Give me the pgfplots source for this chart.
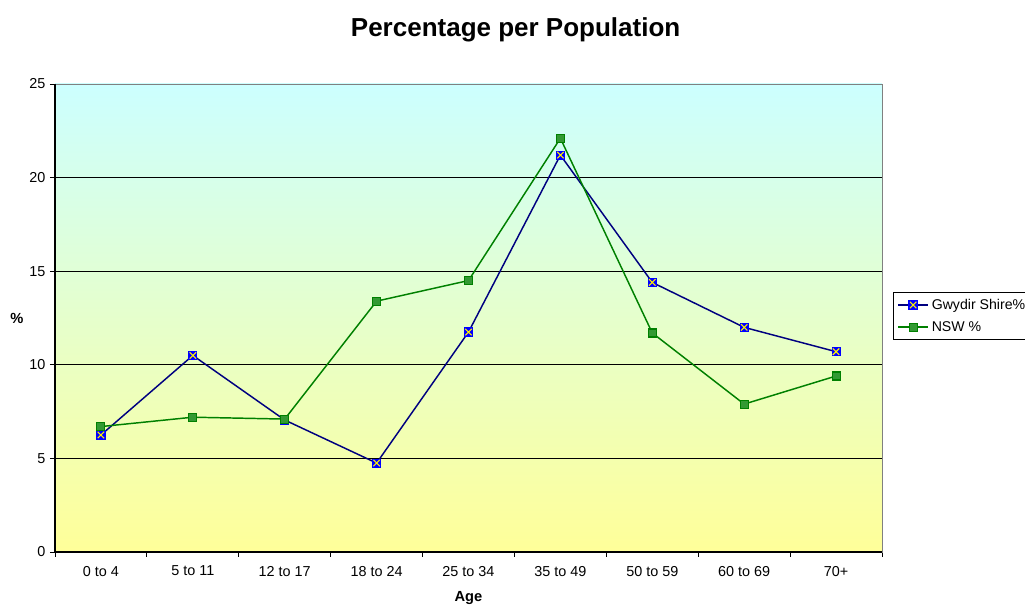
\documentclass[border=0pt]{standalone}
\usepackage{pgfplots}
\pgfplotsset{compat=1.18}
\usepackage{fontspec}
\setmainfont{Liberation Sans}
\definecolor{gwy}{HTML}{000080}
\definecolor{nswl}{HTML}{008000}
\definecolor{nswf}{HTML}{339933}
\definecolor{topc}{HTML}{CCFFFF}
\definecolor{botc}{HTML}{FFFF99}
\pgfdeclareplotmark{sqx}{%
  \pgfpathrectangle{\pgfpoint{-\pgfplotmarksize}{-\pgfplotmarksize}}{\pgfpoint{2\pgfplotmarksize}{2\pgfplotmarksize}}%
  \pgfsetfillcolor{blue}\pgfsetstrokecolor{blue}\pgfusepath{fill,stroke}%
  \pgfsetstrokecolor{yellow}\pgfsetlinewidth{0.8pt}%
  \pgfpathmoveto{\pgfpoint{-0.8\pgfplotmarksize}{-0.8\pgfplotmarksize}}%
  \pgfpathlineto{\pgfpoint{0.8\pgfplotmarksize}{0.8\pgfplotmarksize}}%
  \pgfpathmoveto{\pgfpoint{-0.8\pgfplotmarksize}{0.8\pgfplotmarksize}}%
  \pgfpathlineto{\pgfpoint{0.8\pgfplotmarksize}{-0.8\pgfplotmarksize}}%
  \pgfusepath{stroke}%
}
\begin{document}
\begin{tikzpicture}
\useasboundingbox (0,0) rectangle (768.75pt,453.75pt);
\begin{axis}[
  at={(41.25pt,39.75pt)}, anchor=south west,
  scale only axis, width=620.25pt, height=351pt,
  xmin=0, xmax=9, ymin=0, ymax=25,
  axis background/.style={top color=topc, bottom color=botc},
  axis line style={draw=gray},
  tick align=outside, xtick pos=bottom, ytick pos=left,
  major tick length=3.75pt,
  tick style={black, line width=0.6pt},
  xtick={0,...,9}, xticklabels={},
  extra x ticks={0.5,1.5,...,8.5},
  extra x tick labels={0 to 4,5 to 11,12 to 17,18 to 24,25 to 34,35 to 49,50 to 59,60 to 69,70+},
  extra x tick style={major tick length=0pt, grid=none},
  ytick={0,5,...,25},
  ymajorgrids, grid style={black, line width=0.6pt},
  ticklabel style={font=\fontsize{10.8}{12}\selectfont},
  /pgf/number format/assume math mode=true,
  xticklabel style={yshift=-7pt},
  title={\bfseries Percentage per Population},
  title style={font=\fontsize{19.5}{22}\selectfont, at={(axis description cs:0.557,1.098)}, anchor=center},
  xlabel={\bfseries Age},
  every axis x label/.style={at={(axis description cs:0.5,-0.098)}, anchor=center, font=\fontsize{11}{12}\selectfont},
  ylabel={\bfseries \%},
  every axis y label/.style={at={(axis description cs:-0.046,0.5)}, anchor=center, font=\fontsize{11}{12}\selectfont},
  legend style={at={(rel axis cs:1.0133,0.5556)}, anchor=north west, draw=black, fill=white,
    font=\fontsize{10.6}{12}\selectfont, inner sep=3pt, row sep=3.5pt, cells={anchor=west}},
  legend image code/.code={\draw[mark repeat=2,mark phase=2] plot coordinates {(0cm,0cm) (0.4cm,0cm) (0.8cm,0cm)};},
  clip=false,
]
\addplot[color=gwy, line width=1.1pt, mark=sqx, mark size=3pt] coordinates {
  (0.5,6.25) (1.5,10.5) (2.5,7.05) (3.5,4.75) (4.5,11.75) (5.5,21.2) (6.5,14.4) (7.5,12.0) (8.5,10.7)};
\addlegendentry{Gwydir Shire\%}
\addplot[color=nswl, line width=1.1pt, mark=square*, mark size=3pt, mark options={fill=nswf, draw=nswl, line width=0.8pt}] coordinates {
  (0.5,6.7) (1.5,7.2) (2.5,7.1) (3.5,13.4) (4.5,14.5) (5.5,22.1) (6.5,11.7) (7.5,7.9) (8.5,9.4)};
\addlegendentry{NSW \%}
\draw[black, line width=0.8pt] (rel axis cs:0,1) -- (rel axis cs:0,0) -- (rel axis cs:1,0);
\end{axis}
\end{tikzpicture}
\end{document}
